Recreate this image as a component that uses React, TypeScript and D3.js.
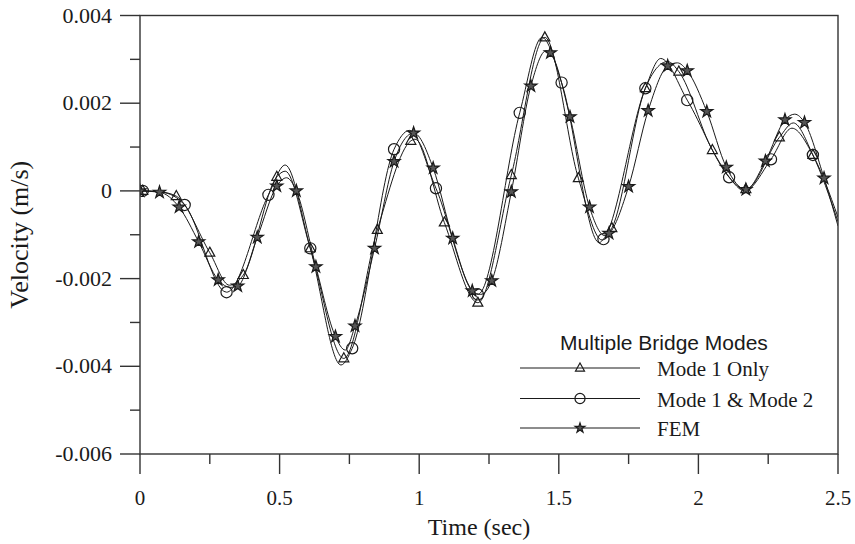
import React from "react";
import * as d3 from "d3";

// Values in 1e-3 m/s. Each knot: [time (s), velocity (×1e-3 m/s), hasMarker]
const mode1Only: [number, number, number][] = [
  [0, 0, 0], [0.01, 0, 1], [0.07, -0.02, 0], [0.13, -0.12, 1], [0.25, -1.41, 1],
  [0.32, -2.15, 0], [0.37, -1.92, 1], [0.49, 0.32, 1], [0.52, 0.45, 0], [0.61, -1.31, 1],
  [0.73, -3.82, 1], [0.85, -0.89, 1], [0.97, 1.14, 1], [0.985, 1.18, 0], [1.09, -0.72, 1],
  [1.21, -2.55, 1], [1.33, 0.36, 1], [1.45, 3.5, 1], [1.57, 0.29, 1], [1.655, -1.12, 0],
  [1.69, -0.85, 1], [1.81, 2.34, 1], [1.89, 2.95, 0], [1.93, 2.72, 1], [2.05, 0.93, 1],
  [2.17, 0.04, 1], [2.29, 1.22, 1], [2.34, 1.55, 0], [2.41, 0.82, 1], [2.5, -0.7, 0],
];
const mode1And2: [number, number, number][] = [
  [0, 0, 0], [0.01, 0, 1], [0.08, -0.03, 0], [0.16, -0.32, 1], [0.31, -2.31, 1],
  [0.46, -0.09, 1], [0.52, 0.59, 0], [0.61, -1.31, 1], [0.72, -3.97, 0], [0.76, -3.59, 1],
  [0.91, 0.95, 1], [0.965, 1.38, 0], [1.06, 0.06, 1], [1.21, -2.36, 1], [1.36, 1.78, 1],
  [1.44, 3.5, 0], [1.51, 2.47, 1], [1.645, -1.18, 0], [1.66, -1.1, 1], [1.81, 2.34, 1],
  [1.865, 3.02, 0], [1.96, 2.07, 1], [2.11, 0.31, 1], [2.165, 0.0, 0], [2.26, 0.72, 1],
  [2.335, 1.43, 0], [2.41, 0.82, 1], [2.5, -0.6, 0],
];
const fem: [number, number, number][] = [
  [0, 0, 1], [0.07, -0.03, 1], [0.14, -0.37, 1], [0.21, -1.16, 1], [0.28, -2.03, 1],
  [0.325, -2.2, 0], [0.35, -2.17, 1], [0.42, -1.06, 1], [0.49, 0.11, 1], [0.525, 0.3, 0],
  [0.56, 0.0, 1], [0.63, -1.73, 1], [0.7, -3.32, 1], [0.735, -3.63, 0], [0.77, -3.08, 1],
  [0.84, -1.31, 1], [0.91, 0.67, 1], [0.98, 1.32, 1], [1.05, 0.52, 1], [1.12, -1.08, 1],
  [1.19, -2.28, 1], [1.22, -2.36, 0], [1.26, -2.05, 1], [1.33, -0.02, 1], [1.4, 2.39, 1],
  [1.455, 3.2, 0], [1.47, 3.15, 1], [1.54, 1.69, 1], [1.61, -0.37, 1], [1.665, -1.02, 0],
  [1.68, -0.97, 1], [1.75, 0.1, 1], [1.82, 1.83, 1], [1.89, 2.85, 1], [1.925, 2.92, 0],
  [1.96, 2.74, 1], [2.03, 1.81, 1], [2.1, 0.54, 1], [2.17, 0.03, 1], [2.24, 0.68, 1],
  [2.31, 1.62, 1], [2.345, 1.75, 0], [2.38, 1.56, 1], [2.45, 0.29, 1], [2.5, -0.8, 0],
];

const seriesNames = ["Mode 1 Only", "Mode 1 & Mode 2", "FEM"];
const legendTitle = "Multiple Bridge Modes";
const xTicks = [0, 0.5, 1, 1.5, 2, 2.5];
const xMinorTicks = [0.25, 0.75, 1.25, 1.75, 2.25];
const yTicks = [-0.006, -0.004, -0.002, 0, 0.002, 0.004];
const yMinorTicks = [-0.005, -0.003, -0.001, 0.001, 0.003];
const xLabel = "Time (sec)";
const yLabel = "Velocity (m/s)";

const W = 855, H = 544;
const L = 140, R = 838, T = 15.5, B = 454;
const serif = "'Liberation Serif', 'Times New Roman', serif";
const sans = "'Liberation Sans', Arial, sans-serif";
const ink = "#1a1a1a";

function Marker({ kind, x, y, s = 1 }: { kind: number; x: number; y: number; s?: number }) {
  if (kind === 0) {
    const h = 9 * s, w = 10 * s;
    return (
      <path
        d={`M${x},${y - h * 0.62} L${x + w / 2},${y + h * 0.38} L${x - w / 2},${y + h * 0.38} Z`}
        fill="none" stroke={ink} strokeWidth={1.2}
      />
    );
  }
  if (kind === 1) {
    return <circle cx={x} cy={y} r={5.6 * s} fill="none" stroke={ink} strokeWidth={1.2} />;
  }
  const star = d3.symbol(d3.symbolStar, 46 * s * s)();
  return <path d={star || ""} transform={`translate(${x},${y})`} fill="#555" stroke={ink} strokeWidth={1.2} />;
}

export default function App() {
  const x = d3.scaleLinear().domain([0, 2.5]).range([L, R]);
  const y = d3.scaleLinear().domain([-0.006, 0.004]).range([B, T]);
  const line = d3
    .line<[number, number, number]>()
    .x((d) => x(d[0]))
    .y((d) => y(d[1] / 1000))
    .curve(d3.curveMonotoneX);
  const all = [mode1Only, mode1And2, fem];
  const legX0 = 520, legX1 = 640, legMx = 580;
  const legRows = [368, 398.5, 428];
  return (
    <svg width={W} height={H} style={{ position: "absolute", left: 0, top: 0, background: "#fff" }}>
      <defs>
        <clipPath id="plot">
          <rect x={L} y={T} width={R - L} height={B - T} />
        </clipPath>
      </defs>
      <g clipPath="url(#plot)">
        {all.map((s, i) => (
          <path key={i} d={line(s) || ""} fill="none" stroke={ink} strokeWidth={1} />
        ))}
        {all.map((s, i) =>
          s.filter((d) => d[2] === 1).map((d, j) => (
            <Marker key={`${i}-${j}`} kind={i} x={x(d[0])} y={y(d[1] / 1000)} />
          ))
        )}
      </g>
      {/* frame */}
      <rect x={L} y={T} width={R - L} height={B - T} fill="none" stroke="#333" strokeWidth={1.4} />
      {/* x ticks */}
      {xTicks.map((t) => (
        <g key={t}>
          <line x1={x(t)} x2={x(t)} y1={B} y2={B + 20} stroke="#333" strokeWidth={1.4} />
          <text x={x(t)} y={505} textAnchor="middle" fontFamily={serif} fontSize={21} fill={ink}>
            {t}
          </text>
        </g>
      ))}
      {xMinorTicks.map((t) => (
        <line key={t} x1={x(t)} x2={x(t)} y1={B} y2={B + 10} stroke="#333" strokeWidth={1.4} />
      ))}
      {yTicks.map((t) => (
        <g key={t}>
          <line x1={L - 20} x2={L} y1={y(t)} y2={y(t)} stroke="#333" strokeWidth={1.4} />
          <text x={112} y={y(t) + 7} textAnchor="end" fontFamily={serif} fontSize={22} fill={ink}>
            {t === 0 ? "0" : t.toFixed(3)}
          </text>
        </g>
      ))}
      {yMinorTicks.map((t) => (
        <line key={t} x1={L - 10} x2={L} y1={y(t)} y2={y(t)} stroke="#333" strokeWidth={1.4} />
      ))}
      <text x={479} y={535} textAnchor="middle" fontFamily={serif} fontSize={24} fill={ink}>
        {xLabel}
      </text>
      <text
        transform={`translate(28,${(T + B) / 2}) rotate(-90)`}
        textAnchor="middle" fontFamily={serif} fontSize={26} fill={ink}
      >
        {yLabel}
      </text>
      {/* legend */}
      <text x={664} y={350} textAnchor="middle" fontFamily={sans} fontSize={21} fill={ink}>
        {legendTitle}
      </text>
      {seriesNames.map((n, i) => (
        <g key={n}>
          <line x1={legX0} x2={legX1} y1={legRows[i]} y2={legRows[i]} stroke={ink} strokeWidth={1} />
          <Marker kind={i} x={legMx} y={legRows[i]} s={i === 2 ? 0.8 : 0.9} />
          <text x={657} y={legRows[i] + 8} fontFamily={serif} fontSize={21} fill={ink}>
            {n}
          </text>
        </g>
      ))}
    </svg>
  );
}
